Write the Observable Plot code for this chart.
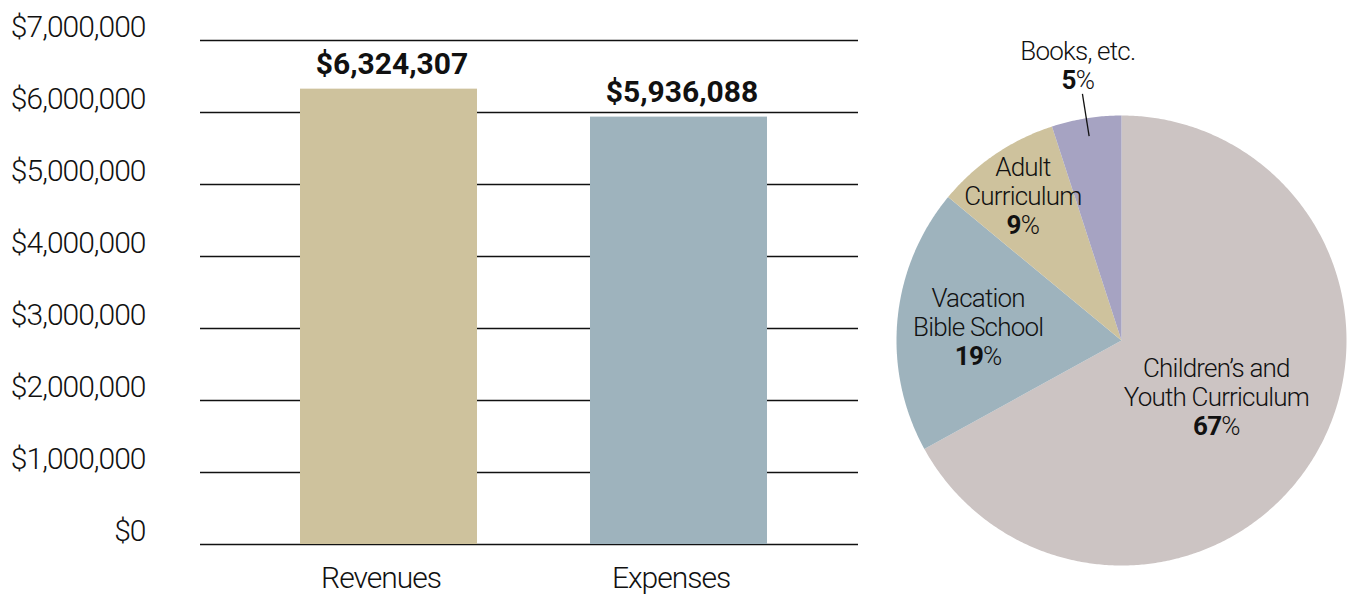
<!DOCTYPE html>
<html><head><meta charset="utf-8">
<script src="https://cdn.jsdelivr.net/npm/d3@7"></script>
<script src="https://cdn.jsdelivr.net/npm/@observablehq/plot@0.6"></script>
<style>
html,body{margin:0;padding:0;background:#fff}
#wrap{position:relative;width:1353px;height:596px;overflow:hidden;background:#fff}
#bars{position:absolute;left:0;top:0}
#pie{position:absolute;left:870px;top:0}
#bars svg g[aria-label="y-axis tick label"] text, #bars svg g[aria-label="x-axis tick label"] text{letter-spacing:-1px}
#pie svg text{letter-spacing:-0.8px}
</style></head><body>
<div id="wrap"><div id="bars"></div><div id="pie"></div></div>
<script>
// ---- data ----
const categories = ["Revenues", "Expenses"];
const amounts = [6324307, 5936088];
const yTicks = [0, 1000000, 2000000, 3000000, 4000000, 5000000, 6000000, 7000000];
const sliceNames = ["Children’s and\nYouth Curriculum", "Vacation\nBible School", "Adult\nCurriculum", "Books, etc."];
const slicePercents = [67, 19, 9, 5];

// ---- styles / layout ----
const barColors = ["#CEC29D", "#9EB3BD"];
const sliceColors = ["#CCC4C3", "#9EB3BD", "#CEC29D", "#A6A3C2"];
const labelRadius = [0.49, 0.64, 0.78, 1.24];
const font = "Roboto, 'Open Sans', sans-serif";

const barData = categories.map((c, i) => ({category: c, amount: amounts[i], color: barColors[i]}));

const bars = Plot.plot({
  width: 870, height: 596,
  marginLeft: 200, marginRight: 12, marginTop: 40, marginBottom: 52,
  style: {fontFamily: font, background: "white", color: "#111"},
  x: {domain: categories, range: [299, 768], paddingInner: 0.388, paddingOuter: 0, axis: null},
  y: {domain: [0, 7000000], axis: null},
  marks: [
    Plot.ruleY(yTicks, {stroke: "#111", strokeWidth: 1.4}),
    Plot.barY(barData, {x: "category", y: "amount", fill: "color"}),
    Plot.axisY(yTicks, {tickSize: 0, tickPadding: 55, tickFormat: d3.format("$,"), dy: -13, fontSize: 30, fontWeight: 300, label: null}),
    Plot.axisX({tickSize: 0, tickPadding: 22, fontSize: 30, fontWeight: 300, dx: -8, label: null}),
    Plot.text(barData, {x: "category", y: "amount", text: d => d3.format("$,")(d.amount), dy: -15, dx: 3, lineAnchor: "bottom", fontWeight: "bold", fontSize: 30})
  ]
});
document.getElementById("bars").appendChild(bars);

// ---- pie ----
const total = d3.sum(slicePercents);
let acc = 0;
const slices = slicePercents.map((p, i) => {
  const a0 = acc / total * 2 * Math.PI; acc += p;
  const a1 = acc / total * 2 * Math.PI;
  return {name: sliceNames[i], pct: p, a0, a1, mid: (a0 + a1) / 2, color: sliceColors[i], lr: labelRadius[i]};
});
const piePoints = slices.flatMap(s => {
  const n = Math.max(2, Math.ceil((s.a1 - s.a0) / (Math.PI / 360)));
  const pts = [{x: 0, y: 0, name: s.name, color: s.color}];
  for (let k = 0; k <= n; k++) {
    const a = s.a0 + (s.a1 - s.a0) * k / n;
    pts.push({x: Math.sin(a), y: Math.cos(a), name: s.name, color: s.color});
  }
  return pts;
});

function boldPercent(index, scales, values, dimensions, context, next) {
  const g = next(index, scales, values, dimensions, context);
  d3.select(g).selectAll("text").each(function() {
    const tspans = this.querySelectorAll("tspan");
    const last = tspans.length ? tspans[tspans.length - 1] : this;
    const m = last.textContent.match(/^(\d+)(%)$/);
    if (!m) return;
    last.textContent = "";
    const b = document.createElementNS("http://www.w3.org/2000/svg", "tspan");
    b.setAttribute("font-weight", "bold");
    b.textContent = m[1];
    last.appendChild(b);
    last.appendChild(document.createTextNode(m[2]));
  });
  return g;
}

const books = slices.filter(s => s.name.startsWith("Books"));
const pie = Plot.plot({
  width: 483, height: 596,
  margin: 0,
  style: {fontFamily: font, background: "white", color: "#111", overflow: "visible"},
  x: {domain: [-1, 1], range: [26, 476], axis: null},
  y: {domain: [-1, 1], range: [565, 115], axis: null},
  color: {type: "identity"},
  marks: [
    Plot.line(piePoints, {x: "x", y: "y", z: "name", fill: "color", stroke: "none", curve: "linear-closed"}),
    Plot.link(books, {x1: d => 0.92 * Math.sin(d.mid), y1: d => 0.92 * Math.cos(d.mid), x2: d => 1.11 * Math.sin(d.mid), y2: d => 1.11 * Math.cos(d.mid), stroke: "#111", strokeWidth: 1.3}),
    Plot.text(slices, {
      x: d => d.lr * Math.sin(d.mid), y: d => d.lr * Math.cos(d.mid),
      text: d => d.name + "\n" + d.pct + "%",
      lineAnchor: "middle", lineHeight: 1.12, fontSize: 26, fontWeight: 300, fill: "#111",
      render: boldPercent
    })
  ]
});
document.getElementById("pie").appendChild(pie);
</script>
</body></html>
